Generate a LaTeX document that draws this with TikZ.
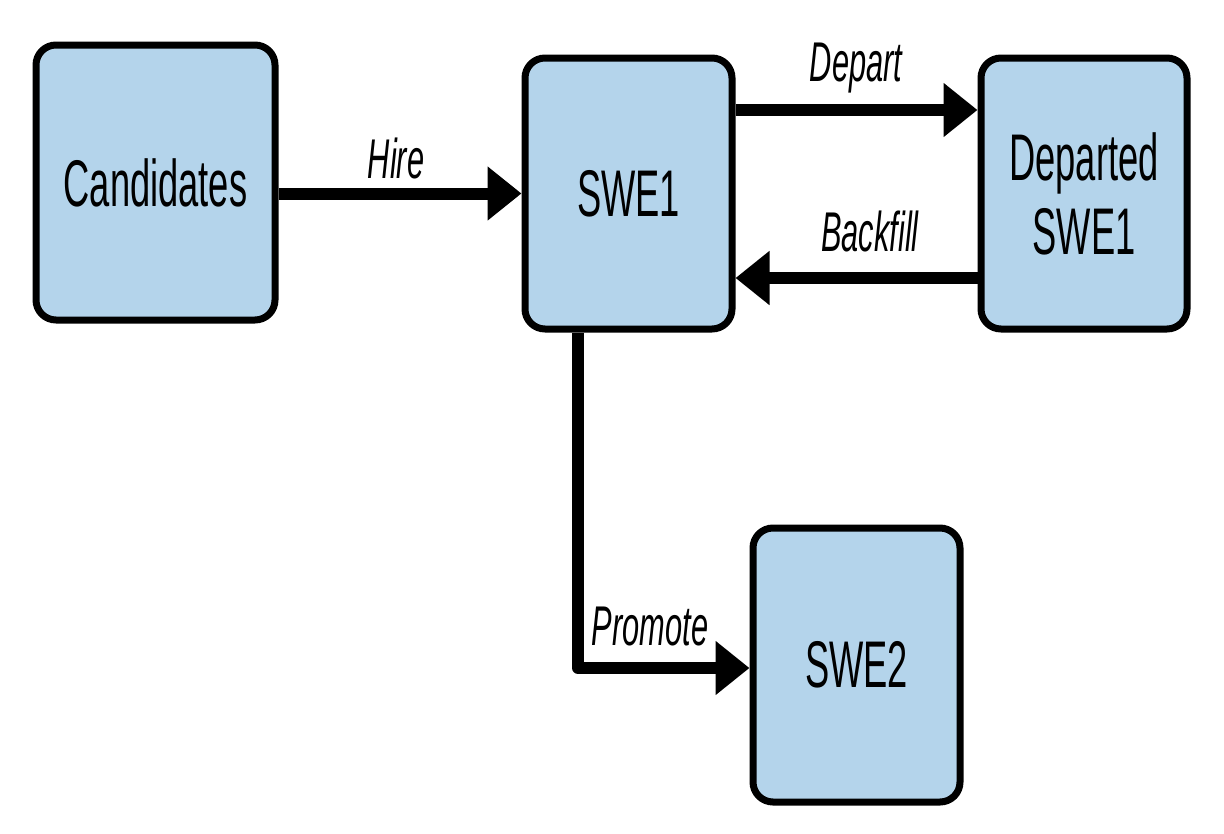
\documentclass[tikz,border=0pt]{standalone}
\usepackage{fontspec}
\setmainfont{Liberation Sans}[FakeStretch=0.55]
\usetikzlibrary{arrows.meta}
\definecolor{boxblue}{RGB}{180,212,235}
\tikzset{
  box/.style={draw=black, fill=boxblue, line width=7pt, rounded corners=20pt,
    inner sep=0pt, align=center, font=\fontsize{66}{74}\selectfont},
  conn/.style={line width=12pt, -{Triangle[length=34pt,width=52pt]}},
  lbl/.style={font=\fontsize{56}{60}\selectfont\itshape, inner sep=0pt}
}
\begin{document}
\begin{tikzpicture}[x=1pt,y=-1pt]
\useasboundingbox (0,0) rectangle (1224,833);
\node[box, minimum width=239pt, minimum height=275pt] (cand) at (155.5,182.5) {Candidates};
\node[box, minimum width=207pt, minimum height=271pt] (swe1) at (628.5,193.5) {SWE1};
\node[box, minimum width=206pt, minimum height=271pt] (dep) at (1084,193.5) {Departed\\SWE1};
\node[box, minimum width=207pt, minimum height=274pt] (swe2) at (856.5,665) {SWE2};
\draw[conn] (cand.east |- swe1) -- (swe1.west);
\draw[conn] ([yshift=83.5pt]swe1.east) -- ([yshift=83.5pt]dep.west);
\draw[conn] ([yshift=-84.5pt]dep.west) -- ([yshift=-84.5pt]swe1.east);
\draw[conn, line join=round] ([xshift=-50.5pt]swe1.south) |- ([yshift=-3pt]swe2.west);
\node[lbl] (lhire) at (396,158) {Hire};
\node[lbl] (ldep) at (856,68) {Depart};
\node[lbl] (lback) at (870,231) {Backfill};
\node[lbl] (lprom) at (650,627) {Promote};
\end{tikzpicture}
\end{document}
